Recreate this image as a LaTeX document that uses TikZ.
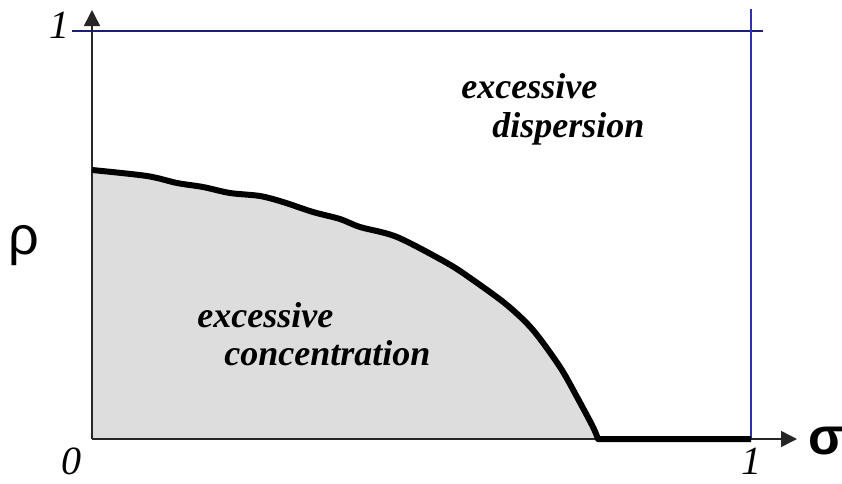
\documentclass[tikz,border=0pt]{standalone}
\usepackage{fontspec}
\setmainfont{Liberation Serif}
\newfontfamily\greekfont{Liberation Sans}
\usetikzlibrary{arrows.meta}

\definecolor{areagray}{RGB}{221,221,221}
\definecolor{boundnavy}{RGB}{30,30,120}
\definecolor{boundblue}{RGB}{50,50,170}

\begin{document}
\begin{tikzpicture}[x=0.5pt, y=-0.5pt,
    every node/.style={inner sep=0pt, anchor=base west},
    ticklabel/.style={font=\fontsize{20}{22}\selectfont\itshape},
    regionlabel/.style={font=\fontsize{18}{20}\selectfont\bfseries\itshape},
    axislabel/.style={font=\fontsize{27}{30}\selectfont\greekfont, anchor=center},
    axis/.style={draw=black!85, line width=0.75pt, -{Triangle[length=8pt, width=8pt]}},
    boundary/.style={line width=3pt, line join=round}]
    \useasboundingbox (0,0) rectangle (842,483);

    \coordinate (O) at (92,439);
    \coordinate (ytip) at (92,10);
    \coordinate (xtip) at (797,439);
    \coordinate (knee) at (598,439);
    \coordinate (xone) at (751,439);
    \coordinate (ytop) at (92,170);

    % shaded region under the boundary
    \fill[areagray] (O) -- (ytop) -- plot[smooth] coordinates {(92,170) (147,176) (177,183) (203,187) (230,193) (260,196) (283,202) (313,212) (340,219) (360,227) (397,237) (447,263) (473,280) (507,305) (533,330) (560,367) (577,397) (593,427) (598,439)} -- cycle;

    % limits at 1
    \draw[boundnavy, line width=0.6pt] (72,31) -- (763,31);
    \draw[boundblue, line width=0.8pt] (751,9) -- (xone);

    % axes
    \draw[axis] (O) -- (ytip);
    \draw[axis] (O) -- (xtip);

    % boundary curve
    \draw[boundary] (ytop) -- plot[smooth] coordinates {(92,170) (147,176) (177,183) (203,187) (230,193) (260,196) (283,202) (313,212) (340,219) (360,227) (397,237) (447,263) (473,280) (507,305) (533,330) (560,367) (577,397) (593,427) (598,439)} -- (xone);

    % labels
    \node[ticklabel] (oneY) at (49,38) {1};
    \node[ticklabel] (zero) at (61,474) {0};
    \node[ticklabel] (oneX) at (741,474) {1};
    \node[axislabel] (rho) at (24,246) {ρ};
    \node[axislabel, font=\fontsize{26}{28}\selectfont\greekfont\bfseries] (sigma) at (826,441) {σ};

    \node[regionlabel] (disp1) at (461,98) {excessive};
    \node[regionlabel] (disp2) at (492,137) {dispersion};
    \node[regionlabel] (conc1) at (197,327) {excessive};
    \node[regionlabel] (conc2) at (224,365) {concentration};
\end{tikzpicture}
\end{document}
